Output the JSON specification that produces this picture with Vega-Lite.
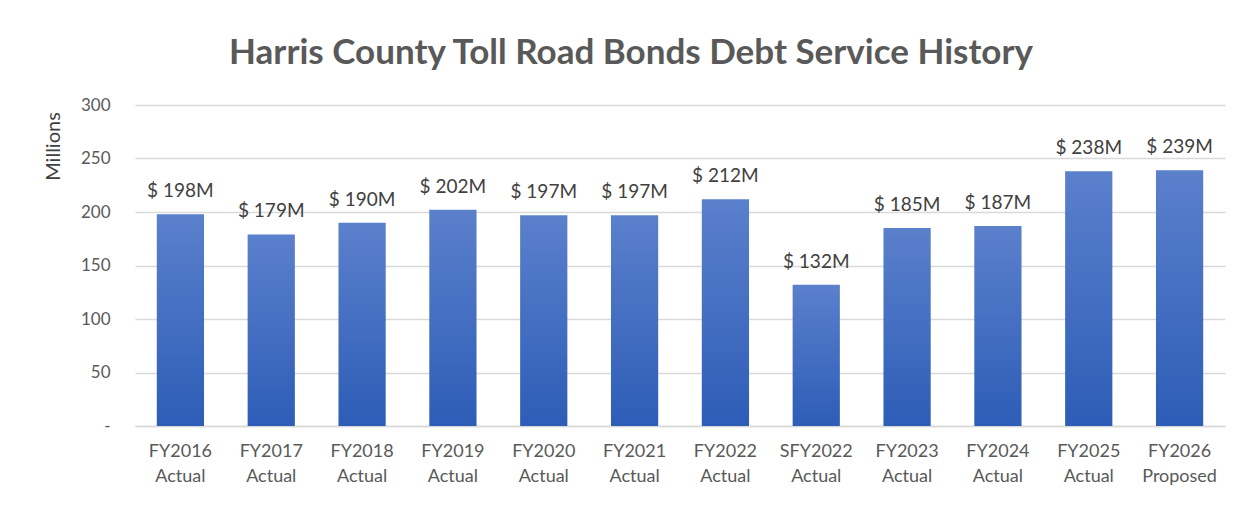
{
  "$schema": "https://vega.github.io/schema/vega-lite/v6.json",
  "autosize": "none",
  "width": 1090,
  "height": 321,
  "padding": {"left": 135, "top": 105, "right": 25, "bottom": 80},
  "background": "white",
  "config": {
    "font": "Lato",
    "view": {"stroke": null}
  },
  "title": {
    "text": "Harris County Toll Road Bonds Debt Service History",
    "font": "Lato",
    "fontSize": 35,
    "fontWeight": "bold",
    "color": "#595959",
    "anchor": "middle",
    "frame": "group",
    "baseline": "alphabetic",
    "offset": -3,
    "dx": -49
  },
  "data": {
    "values": [
      {"period": "FY2016 Actual", "value": 198, "label": "$ 198M"},
      {"period": "FY2017 Actual", "value": 179, "label": "$ 179M"},
      {"period": "FY2018 Actual", "value": 190, "label": "$ 190M"},
      {"period": "FY2019 Actual", "value": 202, "label": "$ 202M"},
      {"period": "FY2020 Actual", "value": 197, "label": "$ 197M"},
      {"period": "FY2021 Actual", "value": 197, "label": "$ 197M"},
      {"period": "FY2022 Actual", "value": 212, "label": "$ 212M"},
      {"period": "SFY2022 Actual", "value": 132, "label": "$ 132M"},
      {"period": "FY2023 Actual", "value": 185, "label": "$ 185M"},
      {"period": "FY2024 Actual", "value": 187, "label": "$ 187M"},
      {"period": "FY2025 Actual", "value": 238, "label": "$ 238M"},
      {"period": "FY2026 Proposed", "value": 239, "label": "$ 239M"}
    ]
  },
  "encoding": {
    "x": {
      "field": "period",
      "type": "nominal",
      "sort": null,
      "scale": {"paddingInner": 0.48, "paddingOuter": 0.24},
      "axis": {
        "title": null,
        "labelAngle": 0,
        "labelExpr": "split(datum.label, ' ')",
        "labelFontSize": 18,
        "labelColor": "#595959",
        "labelLineHeight": 25,
        "labelPadding": 16,
        "ticks": false,
        "domain": true,
        "domainColor": "#d9d9d9",
        "domainWidth": 1.5
      }
    },
    "y": {
      "field": "value",
      "type": "quantitative",
      "scale": {"domain": [0, 300], "nice": false},
      "axis": {
        "values": [0, 50, 100, 150, 200, 250, 300],
        "labelExpr": "datum.value == 0 ? '-\u00a0\u00a0\u00a0' : datum.label",
        "labelFontSize": 17,
        "labelColor": "#595959",
        "labelPadding": 25,
        "ticks": false,
        "domain": false,
        "gridColor": "#d9d9d9",
        "gridWidth": 1.5,
        "title": "Millions",
        "titleFontSize": 20,
        "titleFontWeight": "normal",
        "titleColor": "#404040",
        "titleAngle": -90,
        "titleAlign": "center",
        "titleBaseline": "middle",
        "titleX": -82,
        "titleY": 41
      }
    }
  },
  "layer": [
    {
      "mark": {
        "type": "bar",
        "color": {
          "gradient": "linear",
          "x1": 0, "y1": 0, "x2": 0, "y2": 1,
          "stops": [
            {"offset": 0, "color": "#5B80CC"},
            {"offset": 1, "color": "#2D5DB7"}
          ]
        }
      }
    },
    {
      "mark": {
        "type": "text",
        "baseline": "alphabetic",
        "dy": -17,
        "fontSize": 19,
        "color": "#404040"
      },
      "encoding": {
        "text": {"field": "label", "type": "nominal"}
      }
    }
  ]
}
